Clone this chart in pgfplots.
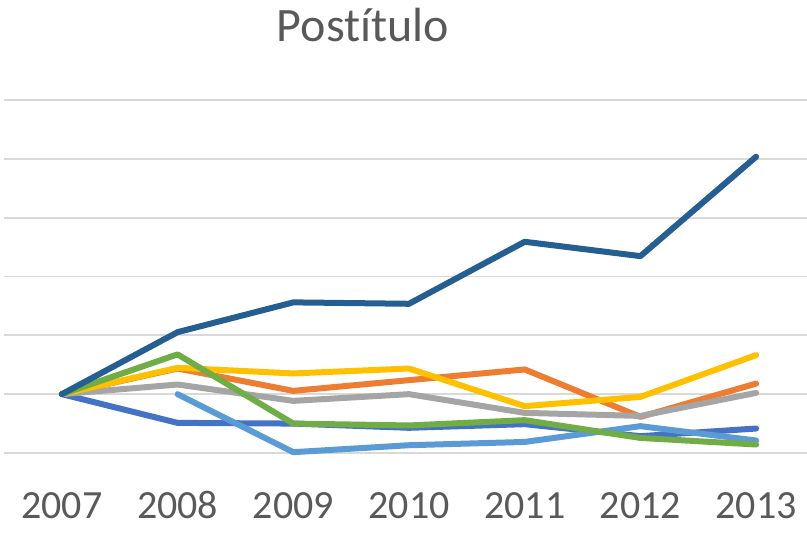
\documentclass[border=0pt]{standalone}
\usepackage{pgfplots}
\pgfplotsset{compat=1.18}
\usepackage{fontspec}
\setmainfont{Carlito}[Ligatures={NoCommon}, RawFeature={-liga;-clig;-calt}]
\definecolor{cA}{HTML}{4472C4}
\definecolor{cB}{HTML}{ED7D31}
\definecolor{cC}{HTML}{A5A5A5}
\definecolor{cD}{HTML}{FFC000}
\definecolor{cE}{HTML}{5B9BD5}
\definecolor{cF}{HTML}{70AD47}
\definecolor{cG}{HTML}{255E91}
\definecolor{txt}{HTML}{595959}
\definecolor{gridc}{HTML}{D9D9D9}
\tikzset{ser/.style={draw=#1, line width=6bp, line join=round, line cap=round}}
\begin{document}
\begin{tikzpicture}[x=1bp,y=1bp]
\path[use as bounding box] (0,0) rectangle (807,533);
\begin{axis}[
  at={(4bp,80bp)}, anchor=south west,
  scale only axis, width=810bp, height=353bp,
  xmin=-0.5, xmax=6.5, ymin=50, ymax=350,
  axis line style={draw=none},
  xtick={0,...,6},
  xticklabels={2007,2008,2009,2010,2011,2012,2013},
  ytick={50,100,...,350}, yticklabels={},
  major tick length=0pt,
  xmajorgrids=false, ymajorgrids=true,
  grid style={draw=gridc, line width=1.8bp},
  xticklabel style={anchor=base, yshift=-66bp, text=txt, font=\fontsize{40bp}{48bp}\selectfont},
  /pgf/number format/assume math mode=true,
  clip=false,
]
\addplot[ser=cA, mark=none] coordinates {(0,100) (1,75.6) (2,75) (3,71.4) (4,74.5) (5,64.3) (6,70.8)};
\addplot[ser=cB, mark=none] coordinates {(0,100) (1,121.8) (2,102.8) (3,111.9) (4,121) (5,80.7) (6,109)};
\addplot[ser=cC, mark=none] coordinates {(0,100) (1,108.2) (2,94.3) (3,100) (4,84.1) (5,81.5) (6,101.1)};
\addplot[ser=cD, mark=none] coordinates {(0,100) (1,122.4) (2,117.6) (3,121.8) (4,89.8) (5,97.7) (6,133.2)};
\addplot[ser=cE, mark=none] coordinates {(1,100) (2,50.7) (3,56.6) (4,59.4) (5,72.8) (6,60.6)};
\addplot[ser=cF, mark=none] coordinates {(0,100) (1,133.8) (2,75) (3,73.4) (4,77.9) (5,62.8) (6,57.2)};
\addplot[ser=cG, mark=none] coordinates {(0,100) (1,152.7) (2,178) (3,176.8) (4,229.5) (5,217.3) (6,301.8)};
\end{axis}
\node[anchor=base, text=txt, font=\fontsize{48bp}{58bp}\selectfont] at (363,491) {Post\kern0ptítulo};
\end{tikzpicture}
\end{document}
